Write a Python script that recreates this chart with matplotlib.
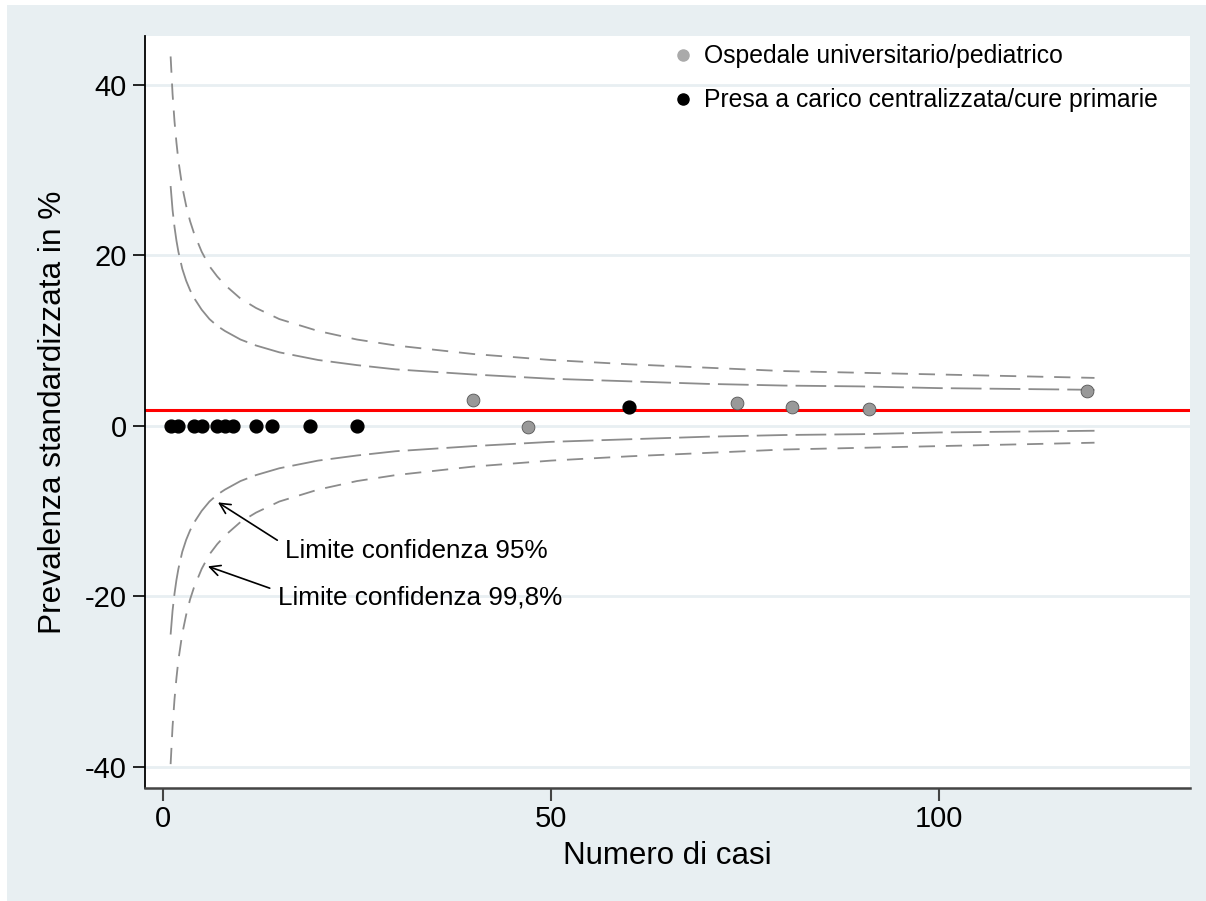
import numpy as np
import matplotlib.pyplot as plt
from matplotlib.patches import Rectangle
from matplotlib.lines import Line2D

plt.rcParams['font.family'] = ['Liberation Sans', 'DejaVu Sans']
plt.rcParams['axes.unicode_minus'] = False

# hospitals
osp_x = [40, 47, 74, 81, 91, 119]
osp_y = [3.0, -0.2, 2.6, 2.2, 2.0, 4.1]
cure_x = [1, 2, 4, 5, 7, 8, 9, 12, 14, 19, 25, 60]
cure_y = [0, 0, 0, 0, 0, 0, 0, 0, 0, 0, 0, 2.2]

media = 1.8

# funnel limits
lim_x = [1, 1.25, 1.5, 1.75, 2, 2.5, 3, 3.5, 4, 5, 6, 7, 8, 10, 12, 15, 20, 25, 30, 40,
         50, 60, 70, 80, 90, 100, 110, 120]
up95 = [28.1, 25.3, 23.3, 21.7, 20.4, 18.4, 17.0, 15.9, 15.0, 13.6, 12.5, 11.7, 11.1, 10.1, 9.4, 8.6, 7.7, 7.1, 6.6, 6.0,
        5.5, 5.2, 4.9, 4.7, 4.6, 4.4, 4.3, 4.2]
lo95 = [-24.5, -21.7, -19.7, -18.1, -16.8, -14.8, -13.4, -12.3, -11.4, -10.0, -8.9, -8.1, -7.5, -6.5, -5.8, -5.0, -4.1, -3.5, -3.0, -2.4,
        -1.9, -1.6, -1.3, -1.1, -1.0, -0.8, -0.7, -0.6]
up998 = [43.3, 38.9, 35.7, 33.2, 31.1, 28.0, 25.8, 24.0, 22.6, 20.4, 18.7, 17.5, 16.5, 14.9, 13.8, 12.5, 11.1, 10.1, 9.4, 8.4,
         7.7, 7.2, 6.8, 6.4, 6.2, 6.0, 5.8, 5.6]
lo998 = [-39.7, -35.3, -32.1, -29.6, -27.5, -24.4, -22.2, -20.4, -19.0, -16.8, -15.1, -13.9, -12.9, -11.3, -10.2, -8.9, -7.5, -6.5, -5.8, -4.8,
         -4.1, -3.6, -3.2, -2.8, -2.6, -2.4, -2.2, -2.0]

bg = '#e8eff2'
fig = plt.figure(figsize=(12.06, 9.01), dpi=100, facecolor='white')
fig.patches.append(Rectangle((7 / 1206, 0), 1 - 7 / 1206, 1 - 5 / 901, transform=fig.transFigure,
                             facecolor=bg, edgecolor='none', zorder=-10))
ax = fig.add_axes([145 / 1206, 113 / 901, (1190 - 145) / 1206, (788 - 36) / 901])
ax.set_zorder(1)
ax.set_facecolor('white')

ax.set_xlim(-2.3, 132.3)
ax.set_ylim(-42.5, 45.7)
ax.set_yticks([-40, -20, 0, 20, 40])
ax.set_xticks([0, 50, 100])
ax.grid(axis='y', color=bg, lw=2, zorder=0)
ax.set_axisbelow(True)

for s in ['top', 'right']:
    ax.spines[s].set_visible(False)
ax.spines['left'].set_color('black')
ax.spines['left'].set_linewidth(1.3)
ax.spines['bottom'].set_color('#444444')
ax.spines['bottom'].set_linewidth(1.8)
ax.tick_params(axis='y', length=9, width=1.2, labelsize=21, pad=4)
ax.tick_params(axis='x', length=9, width=1.5, color='#444444', labelsize=21, pad=3)

ax.axhline(media, color='red', lw=2.2, zorder=2)

grey = '#8c8c8c'
ax.plot(lim_x, up95, color=grey, lw=1.3, dashes=(17, 4.5), zorder=1)
ax.plot(lim_x, lo95, color=grey, lw=1.3, dashes=(17, 4.5), zorder=1)
ax.plot(lim_x, up998, color=grey, lw=1.3, dashes=(9, 6), zorder=1)
ax.plot(lim_x, lo998, color=grey, lw=1.3, dashes=(9, 6), zorder=1)

ax.scatter(cure_x, cure_y, s=85, color='black', zorder=3)
ax.scatter(osp_x, osp_y, s=85, color='#999999', edgecolor='#555555', linewidth=0.6, zorder=4)

ax.annotate('Limite confidenza 95%', xy=(7.1, -9.0), xytext=(15.7, -14.7), fontsize=18.8,
            va='center', ha='left',
            arrowprops=dict(arrowstyle='->', color='black', lw=1.2, shrinkA=4, shrinkB=0,
                            relpos=(0, 0.75)))
ax.annotate('Limite confidenza 99,8%', xy=(5.8, -16.5), xytext=(14.8, -20.1), fontsize=18.8,
            va='center', ha='left',
            arrowprops=dict(arrowstyle='->', color='black', lw=1.2, shrinkA=4, shrinkB=0,
                            relpos=(0, 0.75)))

handles = [Line2D([], [], ls='none', marker='o', ms=8, color='#aaaaaa'),
           Line2D([], [], ls='none', marker='o', ms=8, color='black')]
ax.legend(handles, ['Ospedale universitario/pediatrico', 'Presa a carico centralizzata/cure primarie'],
          loc='upper right', bbox_to_anchor=(0.988, 1.015), frameon=False, fontsize=17.8,
          handletextpad=0.35, labelspacing=0.8, handlelength=1.0, borderpad=0.3)

ax.set_xlabel('Numero di casi', fontsize=22.5, labelpad=6)
ax.set_ylabel('Prevalenza standardizzata in %', fontsize=22.8, labelpad=12)

fig.savefig('out.png', dpi=100, facecolor=fig.get_facecolor())
